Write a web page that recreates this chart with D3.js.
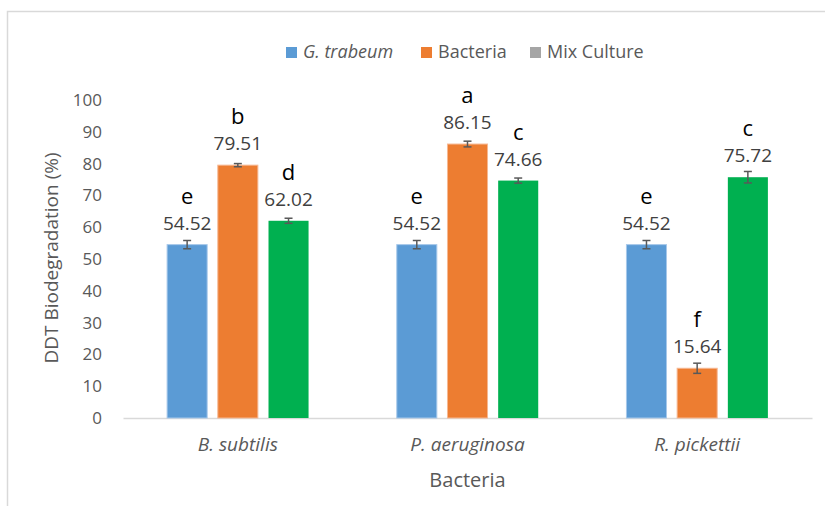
<!DOCTYPE html>
<html>
<head>
<meta charset="utf-8">
<script src="https://cdn.jsdelivr.net/npm/d3@7"></script>
<style>
  body { margin: 0; background: #fff; }
  svg { display: block; font-family: "Open Sans", sans-serif; }
</style>
</head>
<body>
<svg width="825" height="506"></svg>
<script>
// data
const categories = ["B. subtilis", "P. aeruginosa", "R. pickettii"];
const series = ["G. trabeum", "Bacteria", "Mix Culture"];
const gTrabeum = [54.52, 54.52, 54.52];
const bacteria = [79.51, 86.15, 15.64];
const mixCulture = [62.02, 74.66, 75.72];
const errGTrabeum = [1.3, 1.3, 1.3];
const errBacteria = [0.5, 0.9, 1.6];
const errMix = [0.8, 0.8, 1.8];
const letters = [["e", "b", "d"], ["e", "a", "c"], ["e", "f", "c"]];
const yTicks = [0, 10, 20, 30, 40, 50, 60, 70, 80, 90, 100];

const colors = ["#5b9bd5", "#ed7d31", "#00b050"];
const legendColors = ["#5b9bd5", "#ed7d31", "#a5a5a5"];
const strokes = ["#a7c8ea", "#f6b892", "none"];

const values = [gTrabeum, bacteria, mixCulture];
const errors = [errGTrabeum, errBacteria, errMix];

const rows = categories.map(function(c, i) {
  return {
    cat: c,
    bars: series.map(function(s, j) {
      return { s: s, j: j, v: values[j][i], e: errors[j][i], letter: letters[i][j] };
    })
  };
});

const svg = d3.select("svg");

// outer frame
svg.append("rect")
  .attr("x", 7.5).attr("y", 11.5)
  .attr("width", 840).attr("height", 520)
  .attr("fill", "none")
  .attr("stroke", "#d9d9d9")
  .attr("stroke-width", 1.5);

const plot = { left: 123, right: 812, top: 100, bottom: 418 };

const x0 = d3.scaleBand()
  .domain(categories)
  .range([plot.left, plot.right]);

const x1 = d3.scaleBand()
  .domain(series)
  .range([0, x0.bandwidth()])
  .paddingInner(0.21)
  .paddingOuter(0.87);

const y = d3.scaleLinear()
  .domain([0, 100])
  .range([plot.bottom, plot.top]);

// y axis
const yAxis = svg.append("g")
  .attr("transform", "translate(" + plot.left + ",0)")
  .call(d3.axisLeft(y).tickValues(yTicks).tickSize(0).tickPadding(21));
yAxis.select(".domain").remove();
yAxis.selectAll("text")
  .attr("fill", "#595959")
  .style("font-size", "17px")
  .style("font-family", "'Open Sans', sans-serif");

// x axis
const xAxis = svg.append("g")
  .attr("transform", "translate(0," + plot.bottom + ")")
  .call(d3.axisBottom(x0).tickSize(0).tickPadding(20));
xAxis.select(".domain")
  .attr("stroke", "#d9d9d9")
  .attr("stroke-width", 1.5);
xAxis.selectAll("text")
  .attr("fill", "#595959")
  .style("font-size", "19px")
  .style("font-style", "italic")
  .style("font-family", "'Open Sans', sans-serif");

// bars
const groups = svg.append("g").selectAll("g")
  .data(rows)
  .join("g")
  .attr("transform", function(d) { return "translate(" + x0(d.cat) + ",0)"; });

groups.selectAll("rect")
  .data(function(d) { return d.bars; })
  .join("rect")
  .attr("x", function(d) { return x1(d.s); })
  .attr("y", function(d) { return y(d.v); })
  .attr("width", x1.bandwidth())
  .attr("height", function(d) { return y(0) - y(d.v); })
  .attr("fill", function(d) { return colors[d.j]; })
  .attr("stroke", function(d) { return strokes[d.j]; })
  .attr("stroke-width", 1);

// error bars
const err = groups.selectAll("g.err")
  .data(function(d) { return d.bars; })
  .join("g")
  .attr("class", "err")
  .attr("stroke", "#595959")
  .attr("stroke-width", 1.5);
err.append("line")
  .attr("x1", function(d) { return x1(d.s) + x1.bandwidth() / 2; })
  .attr("x2", function(d) { return x1(d.s) + x1.bandwidth() / 2; })
  .attr("y1", function(d) { return y(d.v + d.e); })
  .attr("y2", function(d) { return y(d.v - d.e); });
[1, -1].forEach(function(sgn) {
  err.append("line")
    .attr("x1", function(d) { return x1(d.s) + x1.bandwidth() / 2 - 4; })
    .attr("x2", function(d) { return x1(d.s) + x1.bandwidth() / 2 + 4; })
    .attr("y1", function(d) { return y(d.v + sgn * d.e); })
    .attr("y2", function(d) { return y(d.v + sgn * d.e); });
});

// value labels
groups.selectAll("text.val")
  .data(function(d) { return d.bars; })
  .join("text")
  .attr("class", "val")
  .attr("x", function(d) { return x1(d.s) + x1.bandwidth() / 2; })
  .attr("y", function(d) { return y(d.v) - 15; })
  .attr("text-anchor", "middle")
  .attr("fill", "#404040")
  .style("font-size", "19px")
  .text(function(d) { return d.v.toFixed(2); });

// significance letters
groups.selectAll("text.let")
  .data(function(d) { return d.bars; })
  .join("text")
  .attr("class", "let")
  .attr("x", function(d) { return x1(d.s) + x1.bandwidth() / 2; })
  .attr("y", function(d) { return y(d.v) - 41; })
  .attr("text-anchor", "middle")
  .attr("fill", "#000")
  .style("font-size", "22px")
  .text(function(d) { return d.letter; });

// axis titles
svg.append("text")
  .attr("transform", "translate(58,258) rotate(-90)")
  .attr("text-anchor", "middle")
  .attr("fill", "#595959")
  .style("font-size", "19px")
  .text("DDT Biodegradation (%)");

svg.append("text")
  .attr("x", (plot.left + plot.right) / 2)
  .attr("y", 487)
  .attr("text-anchor", "middle")
  .attr("fill", "#595959")
  .style("font-size", "20px")
  .text("Bacteria");

// legend
const legendX = [286, 421, 530];
const legend = svg.append("g").selectAll("g")
  .data(series)
  .join("g")
  .attr("transform", function(d, i) { return "translate(" + legendX[i] + ",47)"; });
legend.append("rect")
  .attr("width", 11).attr("height", 11)
  .attr("fill", function(d, i) { return legendColors[i]; });
legend.append("text")
  .attr("x", 17).attr("y", 11)
  .attr("fill", "#595959")
  .style("font-size", "18px")
  .style("font-style", function(d, i) { return i === 0 ? "italic" : "normal"; })
  .text(function(d) { return d; });
</script>
</body>
</html>
